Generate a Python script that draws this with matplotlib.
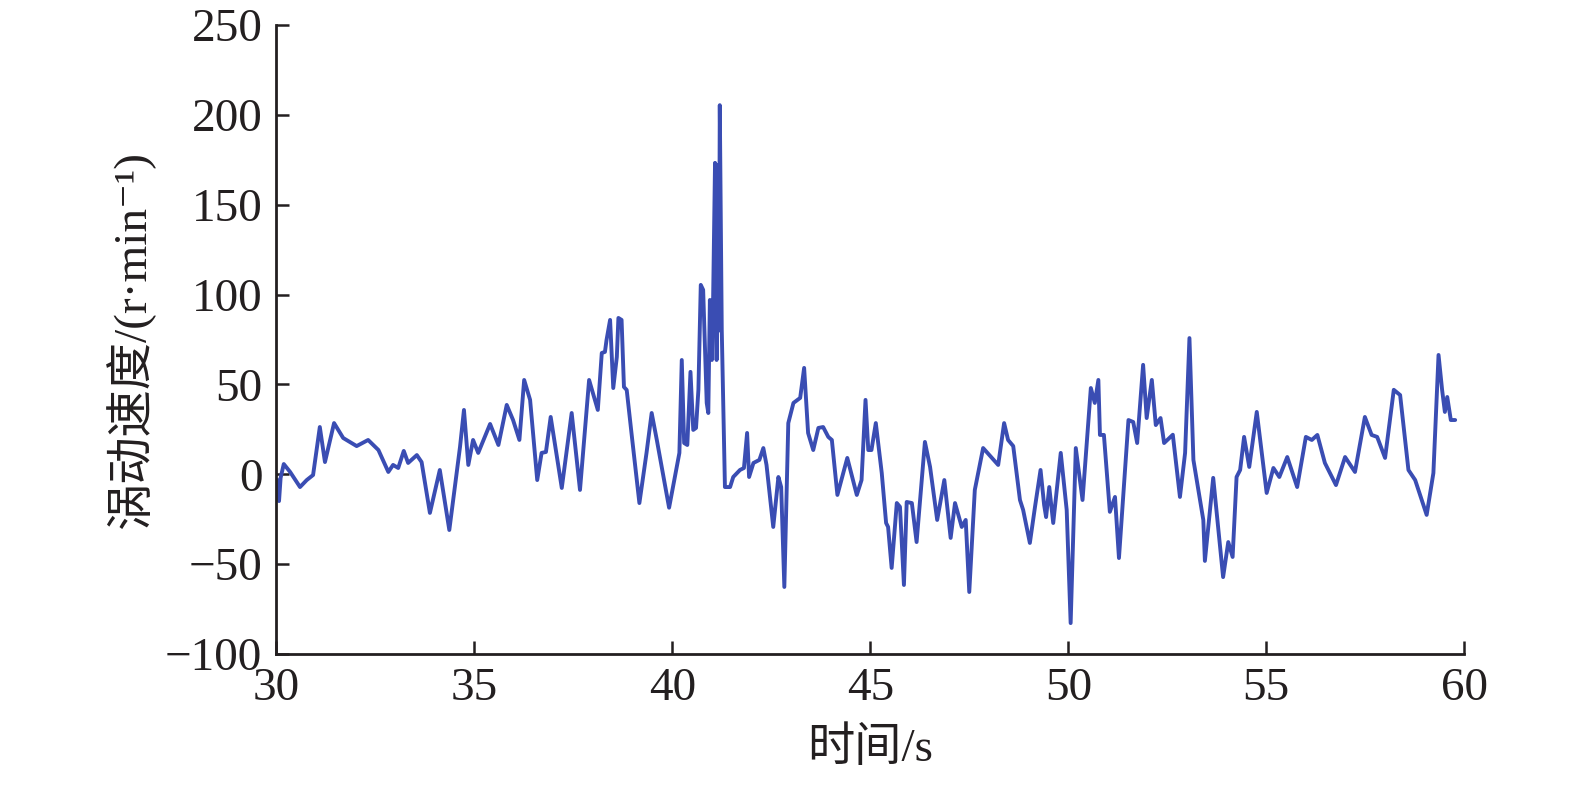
import matplotlib
matplotlib.use("Agg")
import matplotlib.pyplot as plt

# time (s) and whirl speed (r/min)
time_s = [30.03, 30.07, 30.11, 30.19, 30.35, 30.60, 30.77, 30.93, 31.10, 31.23,
          31.46, 31.69, 32.03, 32.32, 32.58, 32.83, 32.95, 33.08, 33.22, 33.33,
          33.55, 33.67, 33.88, 34.13, 34.37, 34.64, 34.74, 34.85, 34.97, 35.10,
          35.40, 35.61, 35.82, 35.98, 36.14, 36.26, 36.41, 36.59, 36.70, 36.81,
          36.93, 37.21, 37.46, 37.67, 37.90, 38.12, 38.22, 38.30, 38.34, 38.43,
          38.51, 38.60, 38.64, 38.72, 38.78, 38.85, 38.97, 39.17, 39.35, 39.48,
          39.61, 39.92, 40.18, 40.24, 40.30, 40.38, 40.46, 40.53, 40.60, 40.66,
          40.72, 40.78, 40.87, 40.91, 40.95, 41.00, 41.03, 41.08, 41.12, 41.15,
          41.18, 41.20, 41.25, 41.33, 41.46, 41.54, 41.71, 41.81, 41.89, 41.94,
          42.05, 42.20, 42.30, 42.38, 42.55, 42.68, 42.75, 42.83, 42.93, 43.06,
          43.23, 43.33, 43.43, 43.56, 43.69, 43.81, 43.94, 44.03, 44.17, 44.42,
          44.66, 44.78, 44.88, 44.95, 45.03, 45.14, 45.29, 45.40, 45.45, 45.54,
          45.67, 45.75, 45.85, 45.92, 46.05, 46.17, 46.38, 46.51, 46.69, 46.87,
          47.03, 47.14, 47.31, 47.41, 47.50, 47.64, 47.85, 48.23, 48.38, 48.48,
          48.61, 48.78, 48.86, 49.03, 49.16, 49.30, 49.39, 49.44, 49.52, 49.62,
          49.81, 49.96, 50.06, 50.19, 50.36, 50.57, 50.67, 50.76, 50.80, 50.90,
          51.05, 51.18, 51.28, 51.52, 51.64, 51.74, 51.89, 51.98, 52.11, 52.21,
          52.33, 52.42, 52.64, 52.82, 52.95, 53.06, 53.16, 53.41, 53.45, 53.66,
          53.91, 54.04, 54.15, 54.25, 54.34, 54.44, 54.57, 54.76, 55.01, 55.18,
          55.33, 55.53, 55.78, 56.00, 56.15, 56.29, 56.48, 56.76, 56.99, 57.24,
          57.49, 57.66, 57.80, 58.00, 58.22, 58.38, 58.59, 58.76, 59.05, 59.22,
          59.35, 59.44, 59.51, 59.57, 59.66, 59.77]
speed = [-3.2, -14.9, -2.0, 5.7, 1.3, -7.1, -3.2, -0.4, 26.3, 6.8,
         28.5, 20.2, 15.7, 19.1, 13.5, 1.3, 5.2, 3.5, 13.0, 6.3,
         10.7, 6.8, -21.5, 2.4, -31.0, 15.2, 35.8, 5.2, 19.1, 11.9,
         28.0, 16.3, 38.6, 30.2, 19.1, 52.5, 41.4, -3.2, 11.9, 12.4,
         31.9, -7.6, 34.1, -8.7, 52.5, 35.8, 67.5, 68.1, 74.7, 85.9,
         48.0, 65.3, 87.0, 85.9, 48.6, 46.9, 23.0, -16.0, 11.9, 34.1,
         19.1, -18.6, 11.9, 63.6, 17.4, 16.3, 57.0, 24.7, 25.8, 47.0,
         105.4, 102.6, 39.7, 34.1, 97.0, 63.6, 95.0, 173.3, 63.6, 172.0,
         80.0, 205.4, 80.2, -7.1, -7.1, -1.5, 2.4, 3.5, 23.0, -1.5,
         6.3, 8.0, 14.6, 5.2, -29.3, -1.5, -7.1, -62.7, 28.5, 39.7,
         42.5, 59.2, 23.0, 13.5, 25.8, 26.3, 20.8, 19.1, -11.5, 9.1,
         -11.5, -3.2, 41.4, 13.5, 13.5, 28.5, 0.7, -27.1, -29.3, -52.1,
         -16.0, -18.1, -61.6, -15.4, -16.0, -37.7, 18.0, 4.1, -25.4, -3.2,
         -35.4, -16.0, -29.3, -25.4, -65.5, -8.7, 14.6, 5.2, 28.5, 19.1,
         15.7, -14.3, -19.8, -38.2, -18.1, 2.4, -17.0, -23.8, -7.1, -27.1,
         11.9, -19.8, -82.8, 14.6, -14.3, 48.0, 39.7, 52.5, 21.9, 21.9,
         -20.9, -12.6, -46.6, 30.2, 29.1, 17.4, 60.9, 31.3, 52.5, 27.4,
         31.3, 17.4, 22.0, -12.6, 11.9, 75.8, 8.0, -25.4, -48.2, -2.0,
         -57.2, -37.7, -46.0, -1.5, 2.4, 20.8, 4.1, 34.7, -10.4, 3.5,
         -1.5, 9.6, -7.1, 20.8, 19.1, 21.9, 6.3, -6.0, 9.6, 1.3,
         31.9, 21.9, 20.8, 9.1, 47.0, 44.1, 2.4, -3.2, -22.6, 0.7,
         66.4, 47.0, 34.7, 43.0, 30.2, 30.2]

x_ticks = [30, 35, 40, 45, 50, 55, 60]
y_ticks = [-100, -50, 0, 50, 100, 150, 200, 250]
x_label = "时间/s"
y_label = "涡动速度/(r·min⁻¹)"

fam = ["Liberation Serif", "Noto Sans CJK SC", "DejaVu Sans"]
plt.rcParams["font.family"] = fam

fig = plt.figure(figsize=(15.75, 7.87), dpi=100)
ax = fig.add_axes([0.1754, 0.169, 0.7543, 0.7992])

ax.plot(time_s, speed, color="#3a4db3", linewidth=2.8,
        solid_joinstyle="round", solid_capstyle="round")

ax.set_xlim(30, 60)
ax.set_ylim(-100, 250)
ax.set_xticks(x_ticks)
ax.set_yticks(y_ticks)

for side in ("top", "right"):
    ax.spines[side].set_visible(False)
for side in ("left", "bottom"):
    ax.spines[side].set_linewidth(2.0)
    ax.spines[side].set_color("#231f20")

ax.tick_params(direction="in", length=9.5, width=1.8, color="#231f20",
               labelsize=34, pad=10, labelcolor="#231f20")

ax.set_xlabel(x_label, fontsize=34, color="#231f20")
ax.set_ylabel(y_label, fontsize=34, color="#231f20")
ax.xaxis.set_label_coords(0.5, -0.117)
ax.yaxis.set_label_coords(-0.102, 0.5)

fig.savefig("out.png", dpi=100, facecolor="white")
